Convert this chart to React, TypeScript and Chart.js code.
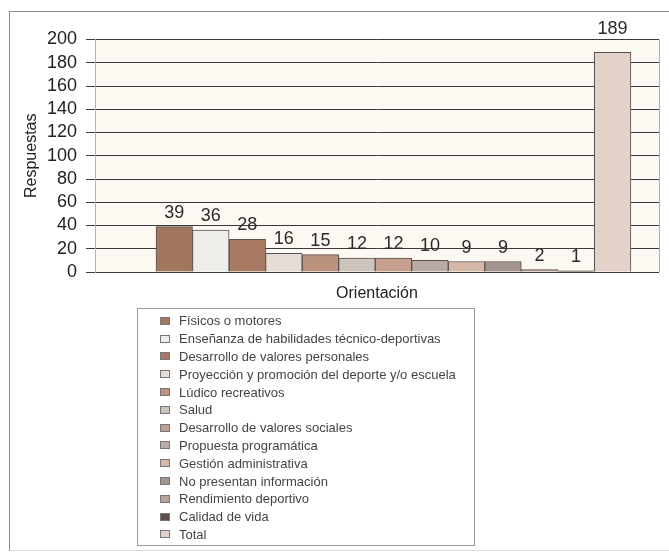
import React, { useEffect, useRef } from "react";
import { Chart, registerables } from "chart.js";

Chart.register(...registerables);

const categories = [
  "Físicos o motores",
  "Enseñanza de habilidades técnico-deportivas",
  "Desarrollo de valores personales",
  "Proyección y promoción del deporte y/o escuela",
  "Lúdico recreativos",
  "Salud",
  "Desarrollo de valores sociales",
  "Propuesta programática",
  "Gestión administrativa",
  "No presentan información",
  "Rendimiento deportivo",
  "Calidad de vida",
  "Total",
];
const values = [39, 36, 28, 16, 15, 12, 12, 10, 9, 9, 2, 1, 189];
const colors = [
  "#a3765f",
  "#efedea",
  "#a87a64",
  "#e6ddd7",
  "#bb927e",
  "#cdc4bc",
  "#c49f8e",
  "#b9aca4",
  "#d6b8a9",
  "#a3958e",
  "#b7a39a",
  "#5e4d49",
  "#e2d2ca",
];
const yMin = 0;
const yMax = 200;
const yStep = 20;
const yTitle = "Respuestas";
const xTitle = "Orientación";

const FONT = "'Liberation Sans', Arial, sans-serif";

const valueLabels = {
  id: "valueLabels",
  afterDatasetsDraw(chart: any) {
    const ctx = chart.ctx;
    const top = chart.chartArea.top;
    ctx.save();
    ctx.font = `18px ${FONT}`;
    ctx.fillStyle = "#2a2a2a";
    ctx.textAlign = "center";
    ctx.textBaseline = "middle";
    chart.data.datasets.forEach((ds: any, i: number) => {
      const meta = chart.getDatasetMeta(i);
      meta.data.forEach((el: any, j: number) => {
        const v = ds.data[j].y;
        let y = el.y - 14;
        if (y < top + 8) y = top - 10;
        ctx.fillText(String(v), el.x, y);
      });
    });
    ctx.restore();
  },
};

const plotFrame = {
  id: "plotFrame",
  beforeDraw(chart: any) {
    const { ctx, chartArea: a } = chart;
    ctx.save();
    ctx.fillStyle = "#fcf9f2";
    ctx.fillRect(a.left, a.top, a.right - a.left, a.bottom - a.top);
    ctx.restore();
  },
  afterDraw(chart: any) {
    const { ctx, chartArea: a } = chart;
    ctx.save();
    ctx.strokeStyle = "#b8b0a8";
    ctx.lineWidth = 1;
    ctx.beginPath();
    ctx.moveTo(Math.round(a.right) + 0.5, a.top);
    ctx.lineTo(Math.round(a.right) + 0.5, a.bottom);
    ctx.stroke();
    ctx.restore();
  },
};

export default function App() {
  const ref = useRef<HTMLCanvasElement | null>(null);

  useEffect(() => {
    if (!ref.current) return;
    const datasets = categories.map((name, i) => ({
      label: name,
      data: [{ x: i, y: values[i] }],
      backgroundColor: colors[i],
      borderColor: "#5a5050",
      borderWidth: 1,
      grouped: false,
      barPercentage: 1,
      categoryPercentage: 1,
    }));
    const chart = new Chart(ref.current, {
      type: "bar",
      data: { datasets },
      plugins: [plotFrame, valueLabels],
      options: {
        animation: false,
        responsive: true,
        maintainAspectRatio: false,
        layout: { padding: { left: 22, right: 10, top: 39.5, bottom: 0 } },
        plugins: { legend: { display: false }, tooltip: { enabled: false } },
        scales: {
          x: {
            type: "linear",
            offset: false,
            min: -2.17,
            max: 13.27,
            afterBuildTicks: (s: any) => {
              s.ticks = [{ value: s.min }, { value: s.max }];
            },
            afterFit: (s: any) => {
              s.height = 38;
            },
            ticks: { display: false },
            grid: { display: false },
            border: { display: false },
            title: {
              display: true,
              text: xTitle,
              color: "#222",
              font: { family: FONT, size: 16 },
              padding: { top: 0, bottom: 7 },
            },
          },
          y: {
            min: yMin,
            max: yMax,
            afterFit: (s: any) => {
              s.width = 73;
            },
            ticks: {
              stepSize: yStep,
              autoSkip: false,
              color: "#222",
              padding: 9,
              font: { family: FONT, size: 18 },
            },
            grid: { color: "#3a3a3a", lineWidth: 1, tickLength: 9, drawTicks: true },
            border: { display: true, color: "#b8b0a8" },
            title: {
              display: true,
              text: yTitle,
              color: "#222",
              font: { family: FONT, size: 16 },
              padding: { top: 0, bottom: 0 },
            },
          },
        },
      } as any,
    });
    return () => chart.destroy();
  }, []);

  return (
    <div style={{ position: "absolute", left: 0, top: 0, width: 669, height: 554, overflow: "hidden", background: "#fff", fontFamily: FONT }}>
      <div
        style={{
          position: "absolute",
          left: 9,
          top: 11,
          width: 660,
          height: 540,
          borderLeft: "1px solid #8a8a8a",
          borderTop: "1px solid #8a8a8a",
          borderBottom: "1px solid #dcdcdc",
          boxSizing: "border-box",
        }}
      />
      <div style={{ position: "absolute", left: 0, top: 0, width: 669, height: 310 }}>
        <canvas ref={ref} />
      </div>
      <div
        style={{
          position: "absolute",
          left: 137,
          top: 308,
          width: 338,
          height: 238,
          border: "1px solid #9a9a9a",
          boxSizing: "border-box",
          paddingTop: 3,
        }}
      >
        {categories.map((name, i) => (
          <div key={name} style={{ display: "flex", alignItems: "center", height: 17.8, fontSize: 13, color: "#444" }}>
            <span
              style={{
                display: "inline-block",
                width: 8,
                height: 6,
                marginLeft: 22,
                marginRight: 9,
                background: colors[i],
                border: "1px solid #777",
              }}
            />
            <span>{name}</span>
          </div>
        ))}
      </div>
    </div>
  );
}
